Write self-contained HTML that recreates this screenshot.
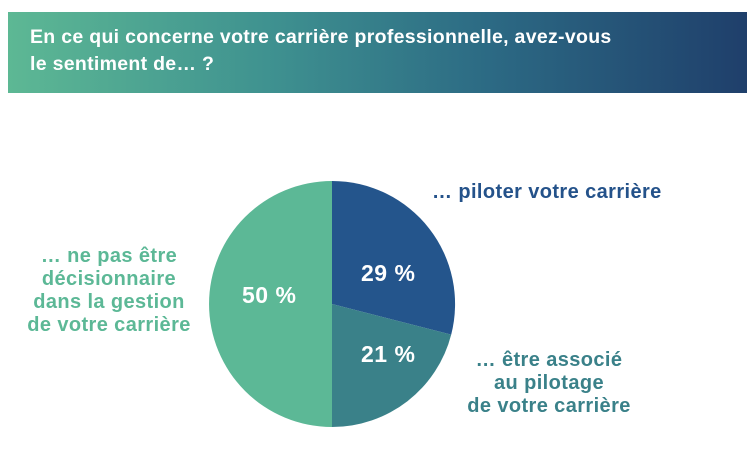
<!DOCTYPE html>
<html><head><meta charset="utf-8"><style>
body{margin:0;width:747px;height:460px;background:#fff;overflow:hidden;position:relative;font-family:"Liberation Sans",sans-serif}
.ban{position:absolute;left:8px;top:12px;width:739px;height:81px;background:linear-gradient(90deg,#5db894 0%,#3f9290 35%,#2c6a84 65%,#1f3f6b 100%)}
.ban div{position:absolute;left:22px;top:12px;color:#fff;font-size:19.5px;font-weight:bold;line-height:27px;letter-spacing:0.3px}
.l{position:absolute;font-weight:bold;font-size:20px;line-height:23px;letter-spacing:0.4px}
</style></head><body>
<div class="ban"><div>En ce qui concerne votre carrière professionnelle, avez-vous<br>le sentiment de… ?</div></div>
<svg width="747" height="460" style="position:absolute;left:0;top:0">
<path d="M332,304 L332,181 A123,123 0 0 1 451.2,334.6 Z" fill="#24558c"/>
<path d="M332,304 L451.2,334.6 A123,123 0 0 1 332,427 Z" fill="#3a8189"/>
<path d="M332,304 L332,427 A123,123 0 0 1 332,181 Z" fill="#5cb896"/>
<g fill="#fff" font-family="Liberation Sans,sans-serif" font-size="23" font-weight="bold" letter-spacing="0.5">
<text x="361" y="281">29 %</text>
<text x="361" y="362">21 %</text>
<text x="242" y="303">50 %</text>
</g>
</svg>
<div class="l" style="left:432px;top:181px;color:#24528a">… piloter votre carrière</div>
<div class="l" style="left:459px;top:349px;color:#3a8189;text-align:center;width:180px">… être associé<br>au pilotage<br>de votre carrière</div>
<div class="l" style="left:10px;top:245px;color:#5cb896;text-align:center;width:198px">… ne pas être<br>décisionnaire<br>dans la gestion<br>de votre carrière</div>
</body></html>
